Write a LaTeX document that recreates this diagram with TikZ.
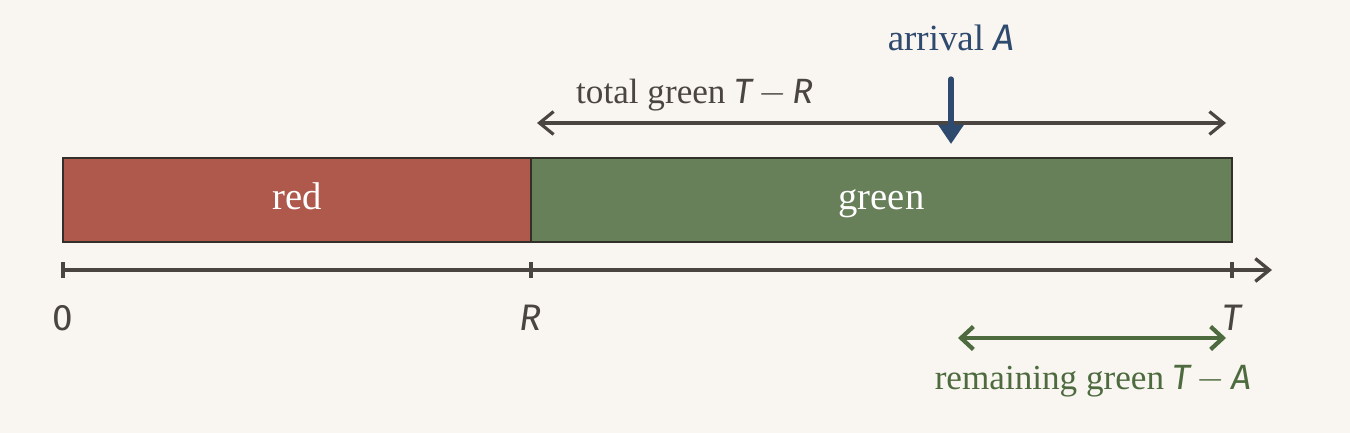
\documentclass[tikz,border=0pt]{standalone}
\usepackage{fontspec}
\setmainfont{Liberation Serif}
\newfontfamily\mathsans{Fira Sans}
\usetikzlibrary{arrows.meta,positioning}
\definecolor{paper}{HTML}{F9F5F0}
\definecolor{ink}{HTML}{4A4541}
\definecolor{edge}{HTML}{33302C}
\definecolor{redseg}{HTML}{AF594D}
\definecolor{greenseg}{HTML}{68805A}
\definecolor{greenink}{HTML}{4D6B3E}
\definecolor{blueink}{HTML}{2E4A6E}
\newcommand{\mv}[1]{{\mathsans\itshape #1}}
\newcommand{\mminus}{\ensuremath{\,-\,}}

\begin{document}
\begin{tikzpicture}[
    x=0.02cm, y=-0.02cm,
    seg/.style={rectangle, draw=edge, line width=1.4pt, minimum height=1.68cm, inner sep=0pt, text=white, text height=16.5pt, text depth=5.5pt, font=\fontsize{22}{26}\selectfont},
    axis/.style={draw=ink, line width=1.9pt},
    span/.style={ink, line width=1.8pt, {Straight Barb[length=8pt, width=13pt]}-{Straight Barb[length=8pt, width=13pt]}},
    lab/.style={font=\fontsize{20}{24}\selectfont, text=ink},
    tick/.style={font=\fontsize{21}{25}\selectfont, text=ink}
]

% background and frame
\fill[paper] (0,0) rectangle (1350,433);
\useasboundingbox (0,0) rectangle (1350,433);

% the two phases
\node[seg, fill=redseg, minimum width=9.36cm] (red) at (297,200) {red};
\node[seg, fill=greenseg, minimum width=14.02cm] (green) at (881.5,200) {green};

% time axis
\coordinate (o) at (63,270);
\coordinate (r) at (531,270);
\coordinate (t) at (1232,270);
\coordinate (tend) at (1272,270);
\draw[axis, -{Straight Barb[length=8pt, width=13pt]}] (o) -- (tend);
\foreach \p in {o,r,t}
    \draw[axis] (\p) ++(0,-8) -- ++(0,16);

\node[tick] (zero) at (63,318) {\mathsans 0};
\node[tick] (rlab) at (531,318) {\mv{R}};
\node[tick] (tlab) at (1232,318) {\mv{T}};

% total green span
\coordinate (tg0) at (537,123);
\coordinate (tg1) at (1226,123);
\draw[span] (tg0) -- (tg1);
\node[lab] (tglab) at (695,95) {total green \mv{T}\mminus\mv{R}};

% arrival
\node[lab, text=blueink, font=\fontsize{21}{25}\selectfont] (arrlab) at (951,38) {arrival \mv{A}};
\coordinate (a0) at (951,79);
\coordinate (a1) at (951,144);
\draw[blueink, line width=3pt, line cap=round, -{Triangle[length=11pt, width=14pt]}] (a0) -- (a1);

% remaining green span
\coordinate (rg0) at (958,338);
\coordinate (rg1) at (1226,338);
\draw[greenink, line width=2.4pt, {Straight Barb[length=7pt, width=13pt]}-{Straight Barb[length=7pt, width=13pt]}] (rg0) -- (rg1);
\node[lab, text=greenink] (rglab) at (1093,381) {remaining green \mv{T}\mminus\mv{A}};

\end{tikzpicture}
\end{document}
